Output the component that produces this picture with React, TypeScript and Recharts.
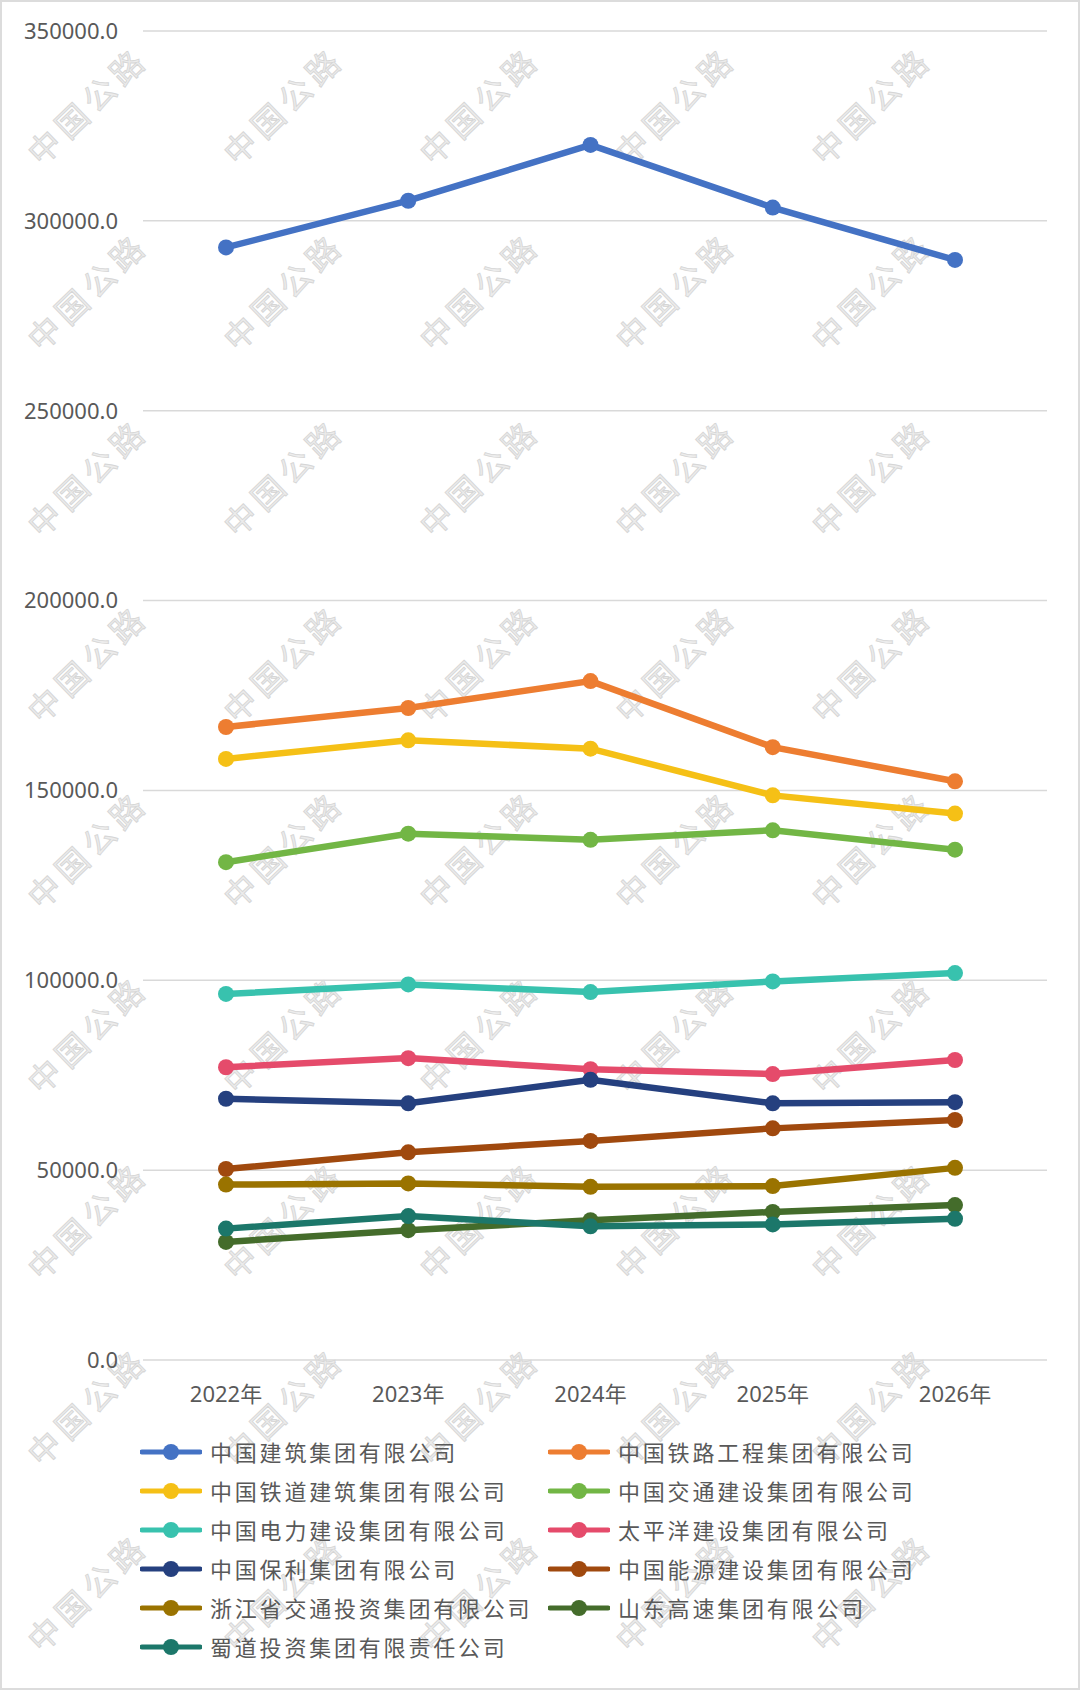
import React from 'react';
import { LineChart, Line, XAxis, YAxis, CartesianGrid, Legend } from 'recharts';

const FONT = "'Noto Sans', 'Noto Sans CJK SC', sans-serif";
const TEXT = '#595959';

const years = ['2022年', '2023年', '2024年', '2025年', '2026年'];

const seriesNames = [
  '中国建筑集团有限公司',
  '中国铁路工程集团有限公司',
  '中国铁道建筑集团有限公司',
  '中国交通建设集团有限公司',
  '中国电力建设集团有限公司',
  '太平洋建设集团有限公司',
  '中国保利集团有限公司',
  '中国能源建设集团有限公司',
  '浙江省交通投资集团有限公司',
  '山东高速集团有限公司',
  '蜀道投资集团有限责任公司',
];

const seriesColors = [
  '#4472C4',
  '#ED7D31',
  '#F5C016',
  '#72B645',
  '#38C2AE',
  '#E54B6B',
  '#25407F',
  '#A0490E',
  '#9A7300',
  '#446C2B',
  '#1C776A',
];

const cscec = [293000, 305300, 320000, 303500, 289700];
const crec = [166700, 171700, 178800, 161400, 152400];
const crcc = [158300, 163200, 161000, 148700, 143900];
const cccc = [131100, 138600, 137000, 139500, 134400];
const powerChina = [96400, 98900, 96900, 99700, 101900];
const pacific = [77100, 79500, 76600, 75300, 79000];
const poly = [68800, 67600, 73800, 67600, 67900];
const energyChina = [50300, 54700, 57700, 61000, 63200];
const zhejiang = [46200, 46500, 45600, 45800, 50600];
const shandong = [31100, 34200, 36800, 39000, 40800];
const shudao = [34600, 37900, 35200, 35700, 37200];

const seriesValues = [
  cscec, crec, crcc, cccc, powerChina, pacific, poly, energyChina, zhejiang, shandong, shudao,
];

const yTicks = [0, 50000, 100000, 150000, 200000, 250000, 300000, 350000];

const watermarkText = '中国公路';
const watermarkCols = [90, 286, 482, 678, 874];
const watermarkRows = [108, 294, 480, 666, 852, 1037, 1223, 1409, 1595];

const data = years.map((year, i) => {
  const row: Record<string, string | number> = { year };
  seriesValues.forEach((vals, s) => {
    row['s' + s] = vals[i];
  });
  return row;
});

const renderLegend = () => (
  <div style={{ position: 'relative', width: 1080, height: 240, fontFamily: FONT }}>
    {seriesNames.map((name, i) => {
      const col = i % 2;
      const row = Math.floor(i / 2);
      return (
        <div
          key={name}
          style={{
            position: 'absolute',
            left: col === 0 ? 140 : 548,
            top: 22 + row * 39 - 15,
            height: 30,
            display: 'flex',
            alignItems: 'center',
            whiteSpace: 'nowrap',
          }}
        >
          <svg width={62} height={20} style={{ display: 'block' }}>
            <line x1={2} y1={10} x2={60} y2={10} stroke={seriesColors[i]} strokeWidth={5} strokeLinecap="round" />
            <circle cx={31} cy={10} r={8} fill={seriesColors[i]} />
          </svg>
          <span
            style={{
              marginLeft: 8,
              fontSize: 22,
              letterSpacing: 2.8,
              color: TEXT,
              lineHeight: '30px',
            }}
          >
            {name}
          </span>
        </div>
      );
    })}
  </div>
);

export default function App() {
  return (
    <div
      style={{
        position: 'absolute',
        left: 0,
        top: 0,
        width: 1080,
        height: 1690,
        background: '#ffffff',
        overflow: 'hidden',
        fontFamily: FONT,
      }}
    >
      <svg
        width={1080}
        height={1690}
        style={{ position: 'absolute', left: 0, top: 0, pointerEvents: 'none' }}
      >
        {watermarkRows.map((cy) =>
          watermarkCols.map((cx) => (
            <text
              key={cx + '-' + cy}
              x={cx}
              y={cy}
              textAnchor="middle"
              dominantBaseline="middle"
              transform={`rotate(-44 ${cx} ${cy})`}
              fontSize={32}
              letterSpacing={6}
              fontFamily="'Noto Sans CJK SC', sans-serif"
              fill="#ececec"
              stroke="#d6d6d6"
              strokeWidth={0.9}
            >
              {watermarkText}
            </text>
          ))
        )}
      </svg>
      <div style={{ position: 'absolute', left: 0, top: 0 }}>
        <LineChart
          width={1080}
          height={1690}
          data={data}
          margin={{ top: 31, right: 33, left: 0, bottom: 270 }}
        >
          <CartesianGrid vertical={false} stroke="#d9d9d9" strokeWidth={1.5} />
          <XAxis
            dataKey="year"
            height={60}
            axisLine={false}
            tickLine={false}
            tickSize={0}
            tickMargin={26}
            padding={{ left: 83, right: 92 }}
            tick={{ fill: TEXT, fontSize: 22, fontFamily: FONT }}
          />
          <YAxis
            width={143}
            domain={[0, 350000]}
            ticks={yTicks}
            axisLine={false}
            tickLine={false}
            tickSize={0}
            tickMargin={25}
            tickFormatter={(v: number) => v.toFixed(1)}
            tick={{ fill: TEXT, fontSize: 22, fontFamily: FONT }}
          />
          <Legend
            layout="horizontal"
            verticalAlign="middle"
            align="center"
            content={renderLegend}
            wrapperStyle={{ left: 0, top: 1430, width: 1080, height: 240 }}
          />
          {seriesNames.map((name, i) => (
            <Line
              key={name}
              type="linear"
              dataKey={'s' + i}
              name={name}
              stroke={seriesColors[i]}
              strokeWidth={6.5}
              dot={{ r: 8, fill: seriesColors[i], stroke: seriesColors[i], strokeWidth: 0 }}
              activeDot={false}
              isAnimationActive={false}
            />
          ))}
        </LineChart>
      </div>
      <div
        style={{
          position: 'absolute',
          left: 0,
          top: 0,
          width: 1080,
          height: 1690,
          boxSizing: 'border-box',
          border: '2px solid #dcdcdc',
          pointerEvents: 'none',
        }}
      />
    </div>
  );
}
